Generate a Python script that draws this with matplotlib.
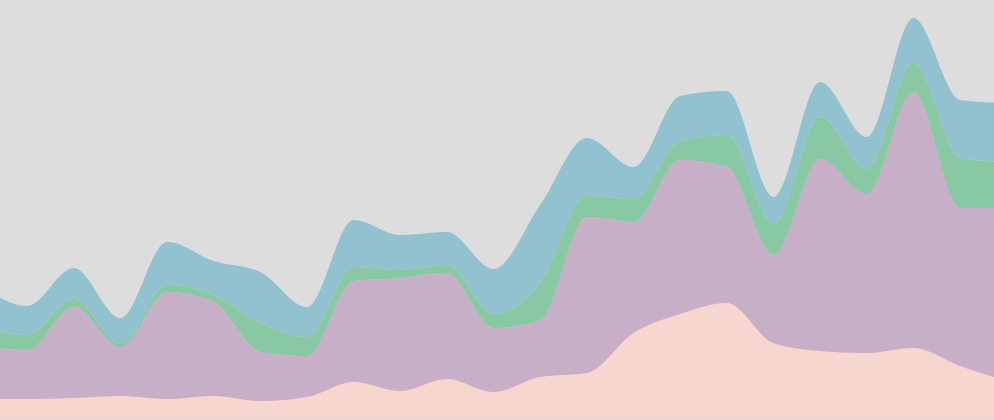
'''
Stacked area chart (four layers, smooth monotone curves, no axes)
'''

import numpy as np
import matplotlib
matplotlib.use('Agg')
import matplotlib.pyplot as plt


# sample positions (one point per step, the first and last lie just outside the view)
STEPS = np.arange(-1, 22)

# layer values, bottom to top
PINK = [19, 19, 20, 22, 19, 22, 17, 21, 36, 27, 39, 26, 41, 45, 85, 104, 115, 75, 67, 65, 70, 52, 37]
PURPLE = [54, 49, 91, 49, 107, 94, 49, 41, 101, 113, 106, 64, 57, 156, 111, 154, 136, 88, 192, 159, 256, 158, 173]
GREEN = [17, 15, 8, 3, 7, 7, 29, 19, 14, 8, 8, 14, 37, 21, 23, 19, 32, 31, 42, 25, 29, 50, 46]
BLUE = [43, 29, 31, 26, 43, 34, 51, 30, 47, 35, 33, 45, 78, 58, 32, 45, 44, 27, 35, 32, 45, 58, 59]

COLORS = ['#f8d6d0', '#c7afc7', '#88c8a2', '#92c1cf']
BG = '#dddddd'


def monotone_curve(x, y, n=40):
    # same tangents as d3.curveMonotoneX
    x = np.asarray(x, float)
    y = np.asarray(y, float)
    h = np.diff(x)
    s = np.diff(y) / h
    m = np.zeros_like(y)
    for i in range(1, len(y) - 1):
        s0, s1 = s[i - 1], s[i]
        p = (s0 * h[i] + s1 * h[i - 1]) / (h[i - 1] + h[i])
        m[i] = (np.sign(s0) + np.sign(s1)) * min(abs(s0), abs(s1), 0.5 * abs(p))
    m[0] = (3 * s[0] - m[1]) / 2
    m[-1] = (3 * s[-1] - m[-2]) / 2

    xs, ys = [], []
    for i in range(len(h)):
        t = np.linspace(0, 1, n, endpoint=False)
        h00 = 2 * t**3 - 3 * t**2 + 1
        h10 = t**3 - 2 * t**2 + t
        h01 = -2 * t**3 + 3 * t**2
        h11 = t**3 - t**2
        xs.append(x[i] + t * h[i])
        ys.append(h00 * y[i] + h10 * h[i] * m[i] + h01 * y[i + 1] + h11 * h[i] * m[i + 1])
    xs.append([x[-1]])
    ys.append([y[-1]])
    return np.concatenate(xs), np.concatenate(ys)


layers = np.array([PINK, PURPLE, GREEN, BLUE], dtype=float)
tops = np.cumsum(layers, axis=0)

fig = plt.figure(figsize=(9.95, 4.2), dpi=100)
fig.patch.set_facecolor(BG)
ax = fig.add_axes([0, 0, 1, 1])
ax.set_facecolor(BG)

lower_x, lower_y = STEPS.astype(float), np.zeros(len(STEPS))
for i in range(len(layers)):
    xs, upper = monotone_curve(STEPS, tops[i])
    if i == 0:
        lower = np.zeros_like(upper)
    else:
        _, lower = monotone_curve(STEPS, tops[i - 1])
    ax.fill_between(xs, lower, upper, color=COLORS[i], linewidth=0)

ax.set_xlim(-27 / 46.65, (995 - 27) / 46.65)
ax.set_ylim(-2, 418)
ax.axis('off')

plt.savefig('out.png', dpi=100, facecolor=BG)
